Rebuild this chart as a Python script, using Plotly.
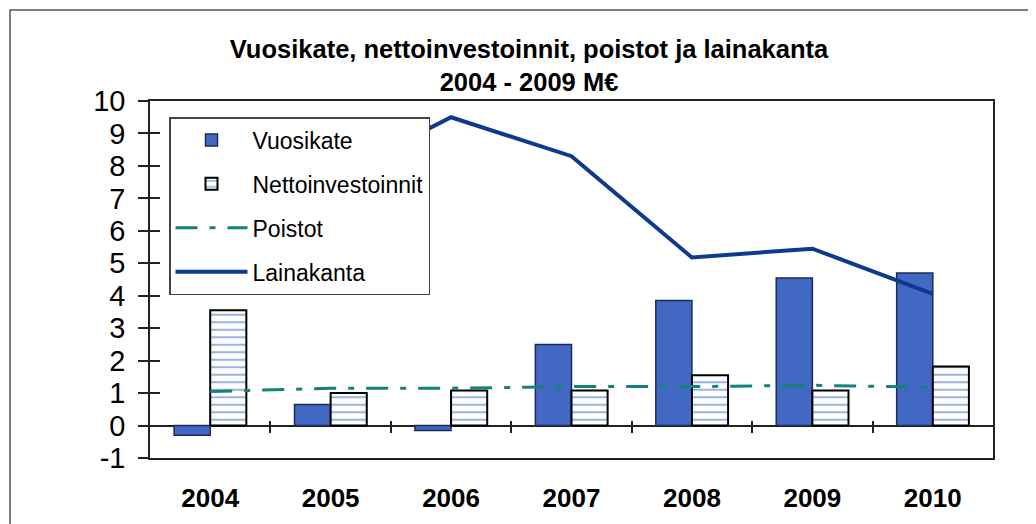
import plotly.graph_objects as go

years = [2004, 2005, 2006, 2007, 2008, 2009, 2010]
year_labels = ["2004", "2005", "2006", "2007", "2008", "2009", "2010"]
vuosikate = [-0.3, 0.65, -0.15, 2.5, 3.85, 4.55, 4.7]
nettoinvestoinnit = [3.55, 1.0, 1.08, 1.08, 1.55, 1.08, 1.82]
poistot = [1.05, 1.15, 1.15, 1.2, 1.2, 1.24, 1.18]
lainakanta = [7.0, 7.6, 9.5, 8.3, 5.18, 5.45, 4.06]
y_ticks = list(range(-1, 11))
y_tick_labels = ["-1", "0", "1", "2", "3", "4", "5", "6", "7", "8", "9", "10"]
boundaries = [2004.5, 2005.5, 2006.5, 2007.5, 2008.5, 2009.5]

FONT = "Liberation Sans, Arial, sans-serif"
W, H = 1036, 524
OFF = 8  # page offset of the figure inside the browser
L, T = 150 - OFF, 101 - OFF
R = W - (993 - OFF)
B = H - (458 - OFF)
pw, ph = W - L - R, H - T - B

fig = go.Figure()
fig.add_trace(go.Bar(
    x=years, y=vuosikate, name="Vuosikate", legendgroup="a",
    marker=dict(color="#4169c4", line=dict(color="#1c2c55", width=1.5)),
))
fig.add_trace(go.Bar(
    x=years, y=nettoinvestoinnit, name="Nettoinvestoinnit", legendgroup="b",
    marker=dict(color="white", line=dict(color="black", width=2),
                pattern=dict(shape="-", fgcolor="#3567c0", bgcolor="white",
                             size=7.5, solidity=0.28)),
))
fig.add_trace(go.Scatter(
    x=years, y=poistot, name="Poistot", legendgroup="c", mode="lines",
    xaxis="x2", yaxis="y2",
    line=dict(color="#13827a", width=3, dash="22px,12px,6px,12px"),
))
fig.add_trace(go.Scatter(
    x=years, y=lainakanta, name="Lainakanta", legendgroup="d", mode="lines",
    xaxis="x2", yaxis="y2",
    line=dict(color="#0d3a8c", width=4),
))

xr = [2003.5, 2010.5]
yr = [-1, 10]
fig.update_layout(
    width=W, height=H,
    margin=dict(l=L, r=R, t=T, b=B),
    paper_bgcolor="white", plot_bgcolor="white",
    font=dict(family=FONT, color="black"),
    barmode="group", bargap=0.4, bargroupgap=0,
    title=dict(
        text="<b>Vuosikate, nettoinvestoinnit, poistot ja lainakanta<br>2004 - 2009 M€</b>",
        font=dict(family=FONT, size=25.5, color="black"),
        x=521 / W, xanchor="center", xref="container",
        y=1 - 50 / H, yanchor="top", yref="container",
    ),
    xaxis=dict(
        range=xr, tickvals=years, ticktext=year_labels,
        tickfont=dict(family=FONT, size=26, color="black", weight="bold"),
        ticks="outside", ticklen=16, tickcolor="rgba(0,0,0,0)",
        showline=True, linecolor="#222", linewidth=1.5, mirror=True,
        showgrid=False, zeroline=False, fixedrange=True,
    ),
    yaxis=dict(
        range=yr, tickvals=y_ticks, ticktext=y_tick_labels,
        tickfont=dict(family=FONT, size=29, color="black"),
        ticks="outside", ticklen=10, tickcolor="#222", tickwidth=1.5,
        ticklabelstandoff=7,
        showline=True, linecolor="#222", linewidth=1.5, mirror=True,
        showgrid=False, zeroline=True, zerolinecolor="#222", zerolinewidth=1.5,
    ),
    xaxis2=dict(
        overlaying="x", anchor="free",
        position=(1 / 11) + 6 / ph,
        range=xr, tickvals=boundaries, showticklabels=False,
        ticks="outside", ticklen=12, tickcolor="#222", tickwidth=1.5,
        showline=False, showgrid=False, zeroline=False,
    ),
    yaxis2=dict(
        overlaying="y", anchor="x", side="left",
        range=yr, tickvals=y_ticks, showticklabels=False,
        ticks="inside", ticklen=10, tickcolor="#222", tickwidth=1.5,
        showline=False, showgrid=False, zeroline=False,
    ),
    legend=dict(
        x=(169 - 150) / pw, y=(458 - 117) / ph, xanchor="left", yanchor="top",
        bgcolor="white", bordercolor="#444", borderwidth=1.5,
        font=dict(family=FONT, size=23, color="black"),
        traceorder="grouped", tracegroupgap=11, itemwidth=72,
    ),
    showlegend=True,
)

fig.add_shape(type="rect", xref="paper", yref="paper",
              x0=(10 - 150) / pw, x1=1.2, y0=-0.5, y1=(458 - 10) / ph,
              line=dict(color="#555", width=1.5), layer="below")

fig.write_html("out.html")
